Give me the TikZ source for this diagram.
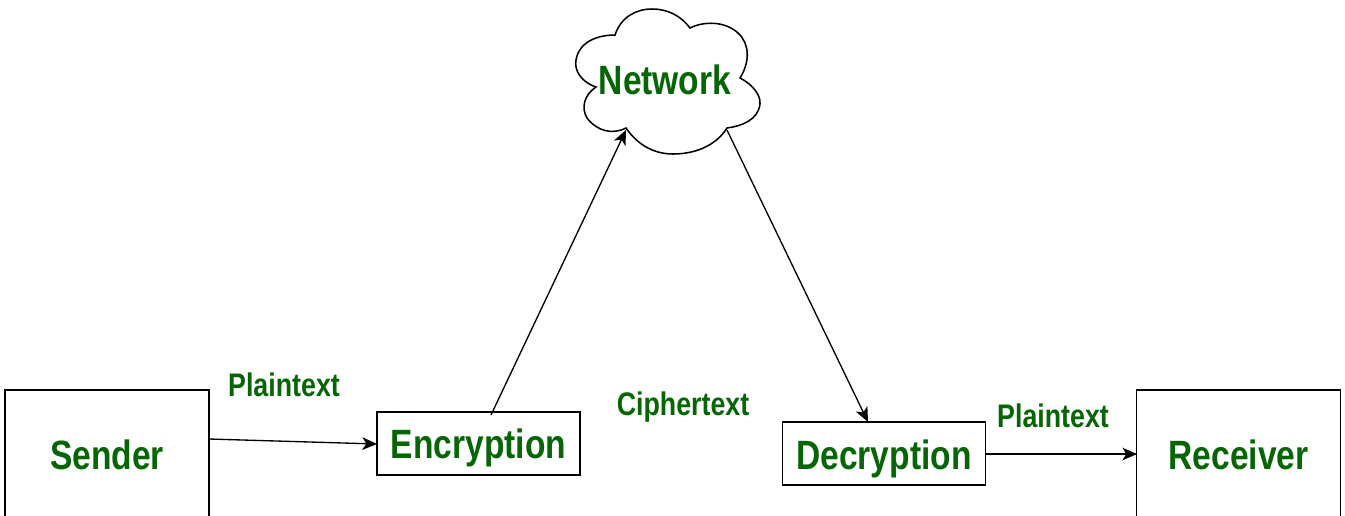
\documentclass[tikz,border=0pt]{standalone}
\usepackage{fontspec}
\setmainfont{Liberation Sans}[FakeStretch=0.82]
\usetikzlibrary{arrows.meta}
\definecolor{gfg}{HTML}{066606}
\tikzset{
  bigtext/.style={text=gfg,inner sep=0pt,font=\fontsize{30.7}{30.7}\selectfont\bfseries},
  boxnode/.style={draw=black,line width=1.1pt,fill=white,inner sep=0pt},
  bigbox/.style={boxnode,bigtext,minimum width=153pt,minimum height=97.5pt},
  smallbox/.style={boxnode,minimum width=152.5pt,minimum height=47pt},
  lbl/.style={text=gfg,inner sep=0pt,font=\fontsize{24.5}{24.5}\selectfont\bfseries},
  conn/.style={draw=black,line width=1pt,-{Stealth[length=11pt,width=9.5pt,inset=3pt]}}
}
\begin{document}
\begin{tikzpicture}[x=0.75pt,y=-0.75pt]
\useasboundingbox (0,0) rectangle (1345,515);
\fill[white] (0,0) rectangle (1345,515);
\begin{scope}
\clip (0,0) rectangle (1345,515);
\node[bigbox] (sender) at (107,455) {Sender};
\node[bigbox] (receiver) at (1238.5,455) {Receiver};
\node[smallbox] (enc) at (478.5,443.5) {};
\node[bigtext] (enct) at (478.5,448) {Encryption};
\node[smallbox] (dec) at (884,453.5) {};
\node[bigtext] (dect) at (884,458.5) {Decryption};
\draw[black,line width=1.15pt,fill=white]
 (615,35) .. controls (621,17) and (636,9) .. (652,9)
 .. controls (668,9) and (681,16) .. (690,28)
 .. controls (704,21) and (725,21) .. (738,33)
 .. controls (750,44) and (750,62) .. (740,78)
 .. controls (752,84) and (761,95) .. (760,104)
 .. controls (758,120) and (742,126) .. (727,128)
 .. controls (715,147) and (693,154) .. (673,154)
 .. controls (653,154) and (637,144) .. (626,128)
 .. controls (612,135) and (597,131) .. (587,118)
 .. controls (581,108) and (584,95) .. (596,87)
 .. controls (581,82) and (574,70) .. (576,60)
 .. controls (579,42) and (597,35) .. (615,35) -- cycle;
\node[bigtext] (network) at (665,80) {Network};
\coordinate (netin) at (626,130);
\coordinate (netout) at (727,130);
\coordinate (encout) at (491,415);
\coordinate (decin) at (868,422);
\coordinate (sendout) at (209,439);
\coordinate (encin) at (377,444);
\coordinate (decout) at (986,454);
\coordinate (recvin) at (1137,454);
\draw[conn] (sendout) -- (encin);
\draw[conn] (encout) -- (netin);
\draw[conn] (netout) -- (decin);
\draw[conn] (decout) -- (recvin);
\node[lbl] (p1) at (284,385) {Plaintext};
\node[lbl] (c1) at (683,407) {Ciphertext};
\node[lbl] (p2) at (1053,416) {Plaintext};
\end{scope}
\end{tikzpicture}
\end{document}
